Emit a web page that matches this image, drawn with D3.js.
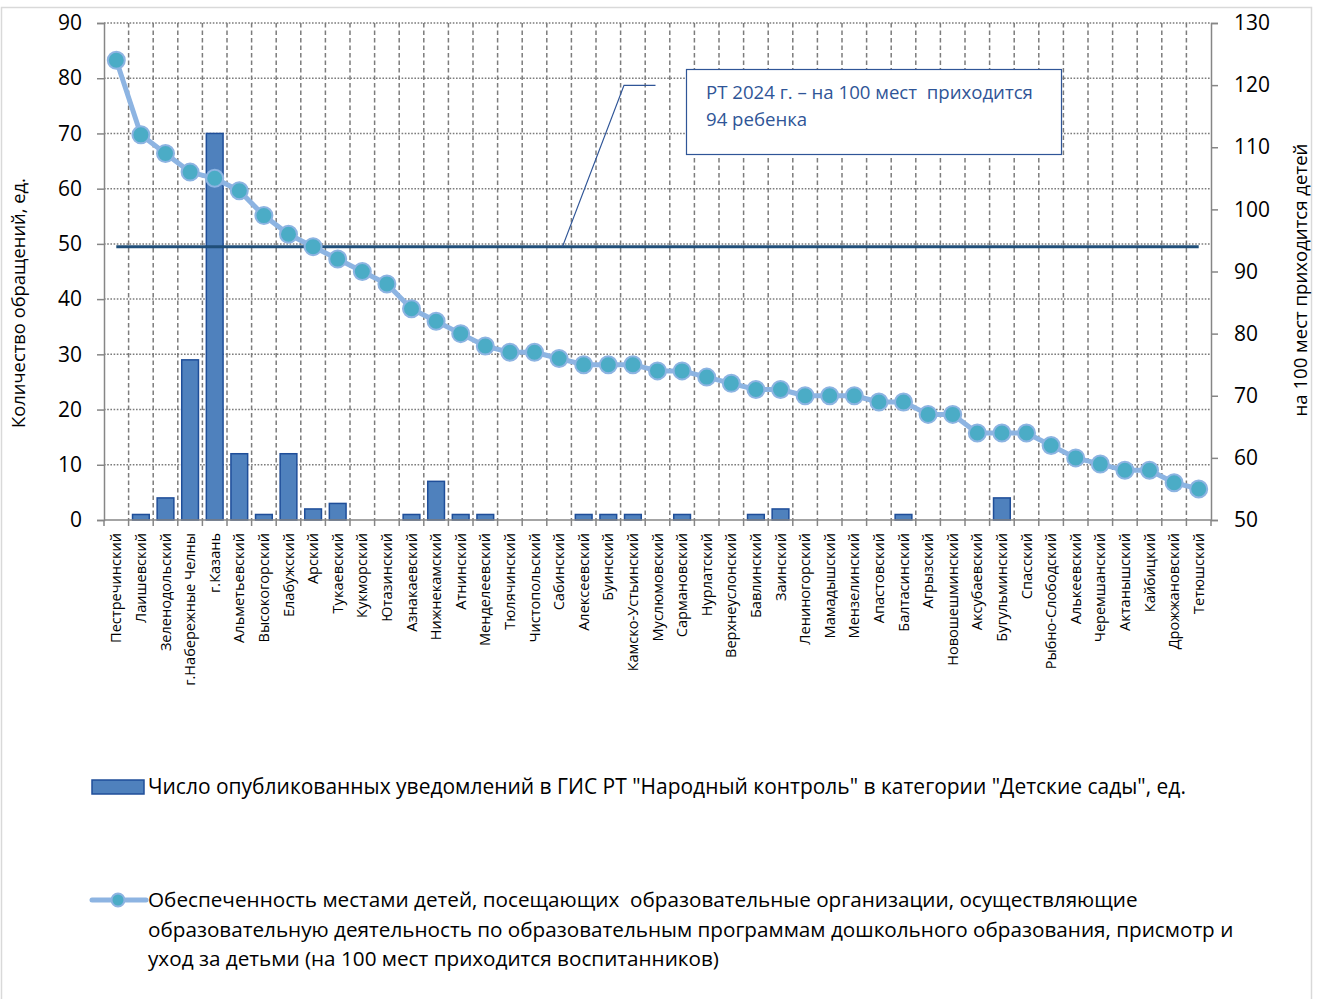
<!DOCTYPE html>
<html>
<head>
<meta charset="utf-8">
<script src="https://cdn.jsdelivr.net/npm/d3@7"></script>
<style>
  html, body { margin: 0; padding: 0; background: #fff; }
  svg text { white-space: pre; }
</style>
</head>
<body>
<svg id="chart" width="1320" height="999"></svg>
<script>
// ---------------- DATA ----------------
const categories = [
  "Пестречинский","Лаишевский","Зеленодольский","г.Набережные Челны","г.Казань",
  "Альметьевский","Высокогорский","Елабужский","Арский","Тукаевский",
  "Кукморский","Ютазинский","Азнакаевский","Нижнекамский","Атнинский",
  "Менделеевский","Тюлячинский","Чистопольский","Сабинский","Алексеевский",
  "Буинский","Камско-Устьинский","Муслюмовский","Сармановский","Нурлатский",
  "Верхнеуслонский","Бавлинский","Заинский","Лениногорский","Мамадышский",
  "Мензелинский","Апастовский","Балтасинский","Агрызский","Новошешминский",
  "Аксубаевский","Бугульминский","Спасский","Рыбно-Слободский","Алькеевский",
  "Черемшанский","Актанышский","Кайбицкий","Дрожжановский","Тетюшский"
];
const notifications = [
  0,1,4,29,70,
  12,1,12,2,3,
  0,0,1,7,1,
  1,0,0,0,1,
  1,1,0,1,0,
  0,1,2,0,0,
  0,0,1,0,0,
  0,4,0,0,0,
  0,0,0,0,0
];
const provision = [
  124,112,109,106,105,
  103,99,96,94,92,
  90,88,84,82,80,
  78,77,77,76,75,
  75,75,74,74,73,
  72,71,71,70,70,
  70,69,69,67,67,
  64,64,64,62,60,
  59,58,58,56,55
];
const rtLevel = 94;
const leftTicks = [0,10,20,30,40,50,60,70,80,90];
const rightTicks = [50,60,70,80,90,100,110,120,130];
const leftTitle = "Количество обращений, ед.";
const rightTitle = "на 100 мест приходится детей";
const calloutLines = ["РТ 2024 г. – на 100 мест  приходится", "94 ребенка"];
const legendBar = "Число опубликованных уведомлений в ГИС РТ \"Народный контроль\" в категории \"Детские сады\", ед.";
const legendLine = [
  "Обеспеченность местами детей, посещающих  образовательные организации, осуществляющие",
  "образовательную деятельность по образовательным программам дошкольного образования, присмотр и",
  "уход за детьми (на 100 мест приходится воспитанников)"
];

// ---------------- HELPERS ----------------
const FONT = "'Open Sans', 'Noto Sans', sans-serif";
const ctx = document.createElement("canvas").getContext("2d");
function fitSize(str, w) {
  ctx.font = "100px " + FONT;
  return 100 * w / ctx.measureText(str).width;
}

// ---------------- LAYOUT ----------------
const svg = d3.select("#chart");
const L = 104, R = 1211, T = 23, B = 520;
const gridCol = "#7c7c7c", axisCol = "#868686";

// outer border
svg.append("rect").attr("x", 1.5).attr("y", 7.5).attr("width", 1310).attr("height", 1000)
  .attr("fill", "none").attr("stroke", "#d9d9d9").attr("stroke-width", 1.5);

const x = d3.scaleBand().domain(categories).range([L, R]).padding(0);
const step = x.bandwidth();
const yL = d3.scaleLinear().domain([0, 90]).range([B, T]);
const yR = d3.scaleLinear().domain([50, 130]).range([B, T]);

// horizontal grid (dotted)
svg.append("g").selectAll("line").data(leftTicks.filter(d => d > 0)).join("line")
  .attr("x1", L).attr("x2", R)
  .attr("y1", d => yL(d)).attr("y2", d => yL(d))
  .attr("stroke", gridCol).attr("stroke-width", 1.5).attr("stroke-dasharray", "1.6,1.6");

// vertical grid (dashed) at category boundaries
svg.append("g").selectAll("line").data(categories.slice(1)).join("line")
  .attr("x1", d => x(d)).attr("x2", d => x(d))
  .attr("y1", T).attr("y2", B)
  .attr("stroke", gridCol).attr("stroke-width", 1.5).attr("stroke-dasharray", "4.5,3");

// bars
const barW = step * 0.68;
svg.append("g").selectAll("rect").data(categories).join("rect")
  .attr("x", d => x(d) + (step - barW) / 2)
  .attr("width", barW)
  .attr("y", (d, i) => yL(notifications[i]))
  .attr("height", (d, i) => B - yL(notifications[i]))
  .attr("fill", "#4f81bd").attr("stroke", "#1f4e99").attr("stroke-width", 1.5)
  .attr("display", (d, i) => notifications[i] > 0 ? null : "none");

// RT level line
svg.append("line")
  .attr("x1", x(categories[0]) + step / 2).attr("x2", x(categories[categories.length - 1]) + step / 2)
  .attr("y1", yR(rtLevel)).attr("y2", yR(rtLevel))
  .attr("stroke", "#1f4e79").attr("stroke-width", 3);

// line series
const lineGen = d3.line().x((d, i) => x(categories[i]) + step / 2).y(d => yR(d));
svg.append("path").datum(provision).attr("d", lineGen)
  .attr("fill", "none").attr("stroke", "#8db4e2").attr("stroke-width", 5).attr("stroke-linejoin", "round");
svg.append("g").selectAll("circle").data(provision).join("circle")
  .attr("cx", (d, i) => x(categories[i]) + step / 2)
  .attr("cy", d => yR(d))
  .attr("r", 8.5)
  .attr("fill", "#4bacc6").attr("stroke", "#8db4e2").attr("stroke-width", 2);

// axes
const tickFs = fitSize("100", 36);
const gL = svg.append("g").attr("transform", `translate(${L},0)`)
  .call(d3.axisLeft(yL).tickValues(leftTicks).tickSize(7).tickPadding(15));
const gR = svg.append("g").attr("transform", `translate(${R},0)`)
  .call(d3.axisRight(yR).tickValues(rightTicks).tickSize(7).tickPadding(16));
[gL, gR].forEach(g => {
  g.select(".domain").attr("stroke", axisCol).attr("stroke-width", 1.5);
  g.selectAll(".tick line").attr("stroke", axisCol).attr("stroke-width", 1.5);
  g.selectAll(".tick text").attr("font-family", FONT).attr("font-size", tickFs).attr("fill", "#000");
});

// x axis
const gX = svg.append("g").attr("transform", `translate(0,${B})`);
gX.append("line").attr("x1", L).attr("x2", R).attr("stroke", axisCol).attr("stroke-width", 1.5);
gX.selectAll("line.t").data(categories.concat(["__end"])).join("line").attr("class", "t")
  .attr("x1", (d, i) => L + i * step).attr("x2", (d, i) => L + i * step)
  .attr("y1", 0).attr("y2", 6).attr("stroke", axisCol).attr("stroke-width", 1.5);
const xFs = fitSize("Пестречинский", 110);
gX.selectAll("text").data(categories).join("text")
  .attr("transform", d => `translate(${x(d) + step / 2},13) rotate(-90)`)
  .attr("text-anchor", "end").attr("dy", "0.35em")
  .attr("font-family", FONT).attr("font-size", xFs).attr("fill", "#000")
  .text(d => d);

// axis titles
svg.append("text")
  .attr("transform", `translate(25,${(428 + 178) / 2}) rotate(-90)`)
  .attr("text-anchor", "middle").attr("font-family", FONT)
  .attr("font-size", fitSize(leftTitle, 250)).attr("fill", "#000").text(leftTitle);
svg.append("text")
  .attr("transform", `translate(1307,${(417 + 143) / 2}) rotate(-90)`)
  .attr("text-anchor", "middle").attr("font-family", FONT)
  .attr("font-size", fitSize(rightTitle, 273)).attr("fill", "#000").text(rightTitle);

// callout leader + box
const cCol = "#2f5597";
svg.append("path")
  .attr("d", `M${562.5},${yR(rtLevel)} L624,85.3 L655.5,85.3`)
  .attr("fill", "none").attr("stroke", cCol).attr("stroke-width", 1.2);
svg.append("rect").attr("x", 686.5).attr("y", 69.5).attr("width", 375).attr("height", 85)
  .attr("fill", "#fff").attr("stroke", cCol).attr("stroke-width", 1.2);
const cFs = fitSize(calloutLines[0], 327);
svg.append("g").selectAll("text").data(calloutLines).join("text")
  .attr("x", 706).attr("y", (d, i) => 99 + i * 27)
  .attr("font-family", FONT).attr("font-size", cFs).attr("fill", cCol)
  .text(d => d);

// legend
svg.append("rect").attr("x", 92).attr("y", 780).attr("width", 52).attr("height", 14)
  .attr("fill", "#4f81bd").attr("stroke", "#1f4e99").attr("stroke-width", 1.5);
svg.append("text").attr("x", 148).attr("y", 794)
  .attr("font-family", FONT).attr("font-size", fitSize(legendBar, 1038)).attr("fill", "#000")
  .text(legendBar);

svg.append("line").attr("x1", 92).attr("x2", 146).attr("y1", 900).attr("y2", 900)
  .attr("stroke", "#8db4e2").attr("stroke-width", 5).attr("stroke-linecap", "round");
svg.append("circle").attr("cx", 118).attr("cy", 900).attr("r", 6.5)
  .attr("fill", "#4bacc6").attr("stroke", "#8db4e2").attr("stroke-width", 2);
const lFs = fitSize(legendLine[0], 990);
svg.append("g").selectAll("text").data(legendLine).join("text")
  .attr("x", 148).attr("y", (d, i) => 907 + i * 29.5)
  .attr("font-family", FONT).attr("font-size", lFs).attr("fill", "#000")
  .text(d => d);
</script>
</body>
</html>
